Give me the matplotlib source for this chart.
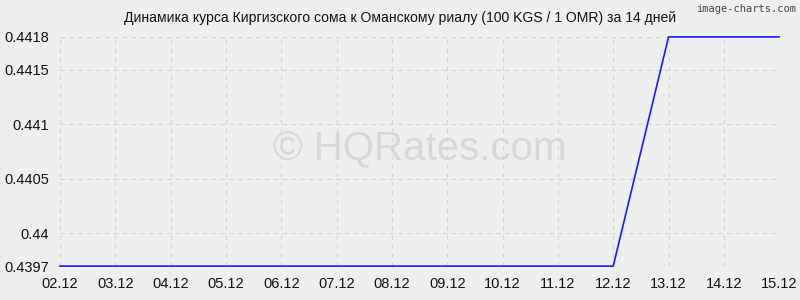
import matplotlib
matplotlib.use("Agg")
import matplotlib.pyplot as plt

dates = ["02.12", "03.12", "04.12", "05.12", "06.12", "07.12", "08.12",
         "09.12", "10.12", "11.12", "12.12", "13.12", "14.12", "15.12"]
rates = [0.4397, 0.4397, 0.4397, 0.4397, 0.4397, 0.4397, 0.4397,
         0.4397, 0.4397, 0.4397, 0.4397, 0.4418, 0.4418, 0.4418]
y_ticks = [0.4397, 0.44, 0.4405, 0.441, 0.4415, 0.4418]
y_labels = ["0.4397", "0.44", "0.4405", "0.441", "0.4415", "0.4418"]
title = "Динамика курса Киргизского сома к Оманскому риалу (100 KGS / 1 OMR) за 14 дней"

plt.rcParams["font.family"] = ["Liberation Sans", "DejaVu Sans"]
bg = "#efefef"

fig = plt.figure(figsize=(8, 3), dpi=100, facecolor=bg)
ax = fig.add_axes([0.075, 0.113, 0.899, 0.764], facecolor=bg)

x = list(range(len(dates)))
ax.plot(x, rates, color="#1a1aff", lw=1.2, zorder=3, clip_on=False)

ax.set_xlim(0, len(dates) - 1)
ax.set_ylim(y_ticks[0], y_ticks[-1])
ax.set_xticks(x)
ax.set_xticklabels(dates)
ax.set_yticks(y_ticks)
ax.set_yticklabels(y_labels)
ax.tick_params(length=0, labelsize=10.5, colors="#111111")
ax.tick_params(axis="x", pad=8)
ax.tick_params(axis="y", pad=8)
ax.grid(True, ls=(0, (4, 4)), color="#d4d4d4", lw=0.8)
for s in ax.spines.values():
    s.set_visible(False)

fig.text(0.5, 0.94, title, ha="center", va="center", fontsize=10.1, color="#111111")
fig.text(0.995, 0.985, "image-charts.com", ha="right", va="top", fontsize=7.5,
         color="#444444", family="DejaVu Sans Mono")
ax.text(0.5, 0.51, "© HQRates.com", transform=ax.transAxes, ha="center", va="center",
        fontsize=29, color="#d8d8d8", zorder=1)

fig.savefig("out.png", dpi=100, facecolor=bg)
